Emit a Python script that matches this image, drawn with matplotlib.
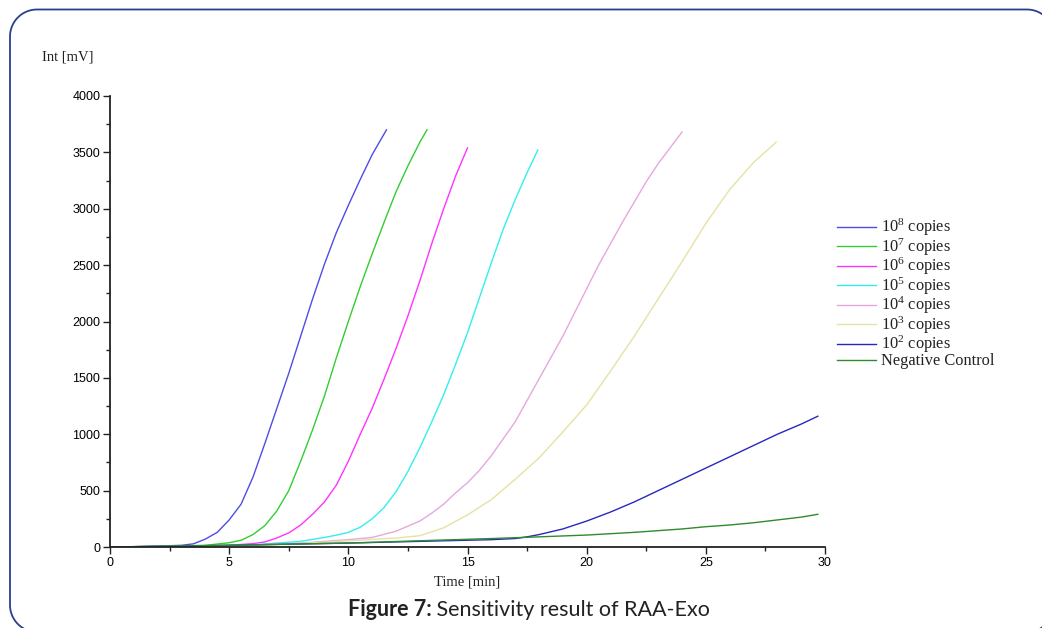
import numpy as np
import matplotlib
matplotlib.use("Agg")
import matplotlib.pyplot as plt
from matplotlib.lines import Line2D
from matplotlib.ticker import MultipleLocator

plt.rcParams['mathtext.default'] = 'regular'

# ---- data ----
labels = ["10$^{8}$ copies", "10$^{7}$ copies", "10$^{6}$ copies", "10$^{5}$ copies",
          "10$^{4}$ copies", "10$^{3}$ copies", "10$^{2}$ copies", "Negative Control"]
colors = ["#4d4de6", "#33cc33", "#ff33ff", "#33eeee",
          "#e6a8dc", "#e6e2a4", "#2828c0", "#2e8b2e"]

t_e8 = [0, 1, 2, 3, 3.5, 4, 4.5, 5, 5.5, 6, 6.5, 7, 7.5, 8, 8.5, 9, 9.5, 10, 10.5, 11, 11.6]
v_e8 = [0, 3, 8, 15, 28, 70, 130, 240, 380, 620, 920, 1230, 1540, 1870, 2200, 2510, 2790, 3030, 3260, 3480, 3700]

t_e7 = [0, 2, 4, 5, 5.5, 6, 6.5, 7, 7.5, 8, 8.5, 9, 9.5, 10, 10.5, 11, 11.5, 12, 12.5, 13, 13.3]
v_e7 = [0, 5, 15, 38, 60, 110, 190, 320, 500, 760, 1040, 1340, 1680, 2000, 2310, 2600, 2880, 3150, 3380, 3590, 3700]

t_e6 = [0, 3, 5, 6, 6.5, 7, 7.5, 8, 8.5, 9, 9.5, 10, 10.5, 11, 11.5, 12, 12.5, 13, 13.5, 14, 14.5, 15]
v_e6 = [0, 5, 15, 30, 45, 80, 125, 195, 290, 400, 550, 760, 1000, 1230, 1490, 1760, 2050, 2360, 2690, 3000, 3290, 3540]

t_e5 = [0, 4, 6, 7, 8, 9, 9.5, 10, 10.5, 11, 11.5, 12, 12.5, 13, 13.5, 14, 14.5, 15, 15.5, 16, 16.5, 17, 17.5, 17.95]
v_e5 = [0, 8, 20, 35, 50, 85, 105, 130, 175, 250, 350, 490, 670, 880, 1110, 1350, 1620, 1900, 2210, 2520, 2820, 3080, 3320, 3520]

t_e4 = [0, 5, 8, 10, 11, 12, 13, 13.5, 14, 14.5, 15, 15.5, 16, 16.5, 17, 17.5, 18, 18.5, 19, 19.5, 20,
        20.5, 21, 21.5, 22, 22.5, 23, 23.5, 24]
v_e4 = [0, 10, 35, 65, 85, 140, 230, 300, 380, 480, 570, 680, 810, 960, 1110, 1300, 1490, 1680, 1870, 2080, 2290,
        2500, 2690, 2880, 3060, 3240, 3400, 3540, 3680]

t_e3 = [0, 5, 8, 10, 12, 13, 14, 15, 16, 17, 18, 19, 20, 21, 22, 23, 24, 25, 26, 27, 27.95]
v_e3 = [0, 10, 30, 55, 80, 100, 170, 285, 420, 600, 790, 1020, 1260, 1560, 1870, 2200, 2530, 2870, 3170, 3410, 3590]

t_e2 = [0, 5, 10, 14, 16, 17, 17.5, 18, 19, 20, 21, 22, 23, 24, 25, 26, 27, 28, 29, 29.7]
v_e2 = [0, 15, 35, 55, 65, 75, 90, 110, 160, 230, 310, 400, 500, 600, 700, 800, 900, 1000, 1090, 1160]

t_neg = [0, 5, 10, 14, 16, 18, 20, 22, 24, 25, 26, 27, 28, 29, 29.7]
v_neg = [0, 15, 35, 62, 75, 90, 106, 130, 160, 180, 195, 215, 240, 265, 290]

series_t = [t_e8, t_e7, t_e6, t_e5, t_e4, t_e3, t_e2, t_neg]
series_v = [v_e8, v_e7, v_e6, v_e5, v_e4, v_e3, v_e2, v_neg]

# ---- figure ----
W, H = 1042, 628
fig = plt.figure(figsize=(W / 100, H / 100), dpi=100)
ax = fig.add_axes([110 / W, 1 - 547 / H, (825 - 110) / W, (547 - 96) / H])

for t, v, c, lab in zip(series_t, series_v, colors, labels):
    ax.plot(t, v, color=c, lw=1.0, label=lab)

ax.set_xlim(0, 30)
ax.set_ylim(0, 4000)
ax.xaxis.set_major_locator(MultipleLocator(5))
ax.xaxis.set_minor_locator(MultipleLocator(2.5))
ax.yaxis.set_major_locator(MultipleLocator(500))
ax.yaxis.set_minor_locator(MultipleLocator(250))
for s in ["top", "right"]:
    ax.spines[s].set_visible(False)
for s in ["left", "bottom"]:
    ax.spines[s].set_linewidth(1.3)
    ax.spines[s].set_color("#222222")
ax.tick_params(which="major", direction="out", length=5, width=1, color="#222222",
               labelsize=9, pad=2)
ax.tick_params(which="minor", direction="out", length=3, width=1, color="#222222")
for lbl in ax.get_xticklabels() + ax.get_yticklabels():
    lbl.set_fontfamily("Liberation Sans")

fig.text(42 / W, 1 - 57 / H, "Int [mV]", family="Liberation Serif", fontsize=10.5,
         ha="left", va="center", color="#222222")
fig.text(467 / W, 1 - 582 / H, "Time [min]", family="Liberation Serif", fontsize=10.5,
         ha="center", va="center", color="#222222")

leg = ax.legend(loc="upper left", bbox_to_anchor=(837 / W, 1 - 217 / H),
                bbox_transform=fig.transFigure, frameon=False, borderpad=0,
                borderaxespad=0, handlelength=2.4, handletextpad=0.3,
                labelspacing=-0.11, prop={"family": "Liberation Serif", "size": 11.8})
for txt in leg.get_texts():
    txt.set_color("#222222")

# rounded frame around the panel, drawn in pixel coordinates (y up)
x0, x1, ytop, ybot, rad = 10, 1054, H - 9.5, -4, 27
ang = np.linspace(0, np.pi / 2, 20)
fx, fy = [], []
fx += list(x1 - rad + rad * np.cos(ang)); fy += list(ytop - rad + rad * np.sin(ang))
fx += list(x0 + rad - rad * np.cos(ang[::-1])); fy += list(ytop - rad + rad * np.sin(ang[::-1]))
fx += list(x0 + rad - rad * np.cos(ang)); fy += list(ybot + rad - rad * np.sin(ang))
fx += list(x1 - rad + rad * np.cos(ang[::-1])); fy += list(ybot + rad - rad * np.sin(ang[::-1]))
fx.append(fx[0]); fy.append(fy[0])
fig.add_artist(Line2D(fx, fy, transform=None, color="#2b3f8f", lw=1.3))

# caption: bold part then regular part
fig.canvas.draw()
r = fig.canvas.get_renderer()
cap_y = 1 - 610 / H
b = fig.text(0, cap_y, "Figure 7:", family="Lato", weight="bold", fontsize=15.5,
             ha="left", va="center", color="#222222")
n = fig.text(0, cap_y, " Sensitivity result of RAA-Exo", family="Lato", fontsize=15.5,
             ha="left", va="center", color="#222222")
wb = b.get_window_extent(r).width
wn = n.get_window_extent(r).width
cx = 529 - (wb + wn) / 2
b.set_x(cx / W)
n.set_x((cx + wb) / W)

plt.savefig("out.png", dpi=100)
